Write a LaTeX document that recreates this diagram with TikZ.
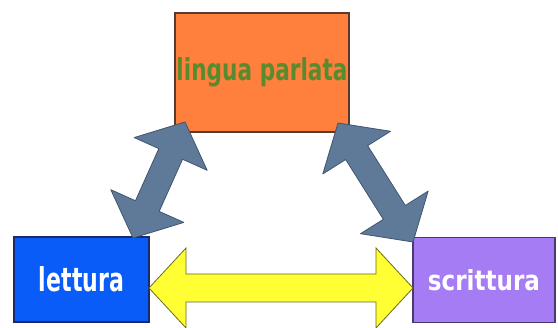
\documentclass[tikz,border=0pt]{standalone}
\usepackage{fontspec}
\setmainfont{DejaVu Sans}
\usetikzlibrary{calc}
\definecolor{orangefill}{HTML}{FF7F3C}
\definecolor{orangeline}{HTML}{5A3A2A}
\definecolor{greentext}{HTML}{5A8A2E}
\definecolor{bluefill}{HTML}{0A5CF8}
\definecolor{blueline}{HTML}{1A2A6A}
\definecolor{purplefill}{HTML}{A57CF4}
\definecolor{purpleline}{HTML}{4A3A6A}
\definecolor{greyfill}{HTML}{5F7998}
\definecolor{greyline}{HTML}{3F5570}
\definecolor{yellowfill}{HTML}{FFFF33}
\definecolor{yellowline}{HTML}{6B6B20}
\tikzset{
  box/.style={rectangle, line width=1.2pt, inner sep=0pt, font=\bfseries},
  greyarrow/.style={fill=greyfill, draw=greyline, line width=0.8pt, line join=round},
  yellowarrow/.style={fill=yellowfill, draw=yellowline, line width=0.8pt, line join=miter}
}
% #1 style, #2 from, #3 to, #4 shaft half width, #5 head half width, #6 head length
\newcommand\blockarrow[6]{%
  \path[#1] (#2)
    -- ($(#2)!#6!(#3)!#5!90:(#3)$)
    -- ($(#2)!#6!(#3)!#4!90:(#3)$)
    -- ($(#3)!#6!(#2)!#4!-90:(#2)$)
    -- ($(#3)!#6!(#2)!#5!-90:(#2)$)
    -- (#3)
    -- ($(#3)!#6!(#2)!#5!90:(#2)$)
    -- ($(#3)!#6!(#2)!#4!90:(#2)$)
    -- ($(#2)!#6!(#3)!#4!-90:(#3)$)
    -- ($(#2)!#6!(#3)!#5!-90:(#3)$)
    -- cycle;}
\begin{document}
\begin{tikzpicture}[x=1pt,y=-1pt]
\useasboundingbox (0,0) rectangle (558,328);
\fill[white] (0,0) rectangle (558,328);
% boxes
\node[box, fill=orangefill, draw=orangeline, minimum width=174pt, minimum height=119pt, text=greentext]
  (parlata) at (262,72.5) {\resizebox{171pt}{23pt}{lingua parlata}};
\node[box, fill=bluefill, draw=blueline, minimum width=135pt, minimum height=85pt, text=white]
  (lettura) at (81.5,279.5) {\resizebox{85pt}{25pt}{lettura}};
\node[box, fill=purplefill, draw=purpleline, minimum width=142pt, minimum height=85pt, text=white]
  (scrittura) at (484,280) {\resizebox{112pt}{21pt}{scrittura}};
% arrow tips
\coordinate (a1) at (185,122);
\coordinate (a2) at (133,238);
\coordinate (b1) at (338,123);
\coordinate (b2) at (413,242);
\coordinate (y1) at (149,288);
\coordinate (y2) at (413,288);
% arrows
\blockarrow{yellowarrow}{y1}{y2}{14pt}{40pt}{37pt}
\blockarrow{greyarrow}{a1}{a2}{13pt}{40pt}{35pt}
\blockarrow{greyarrow}{b1}{b2}{13pt}{40pt}{35pt}
\end{tikzpicture}
\end{document}
